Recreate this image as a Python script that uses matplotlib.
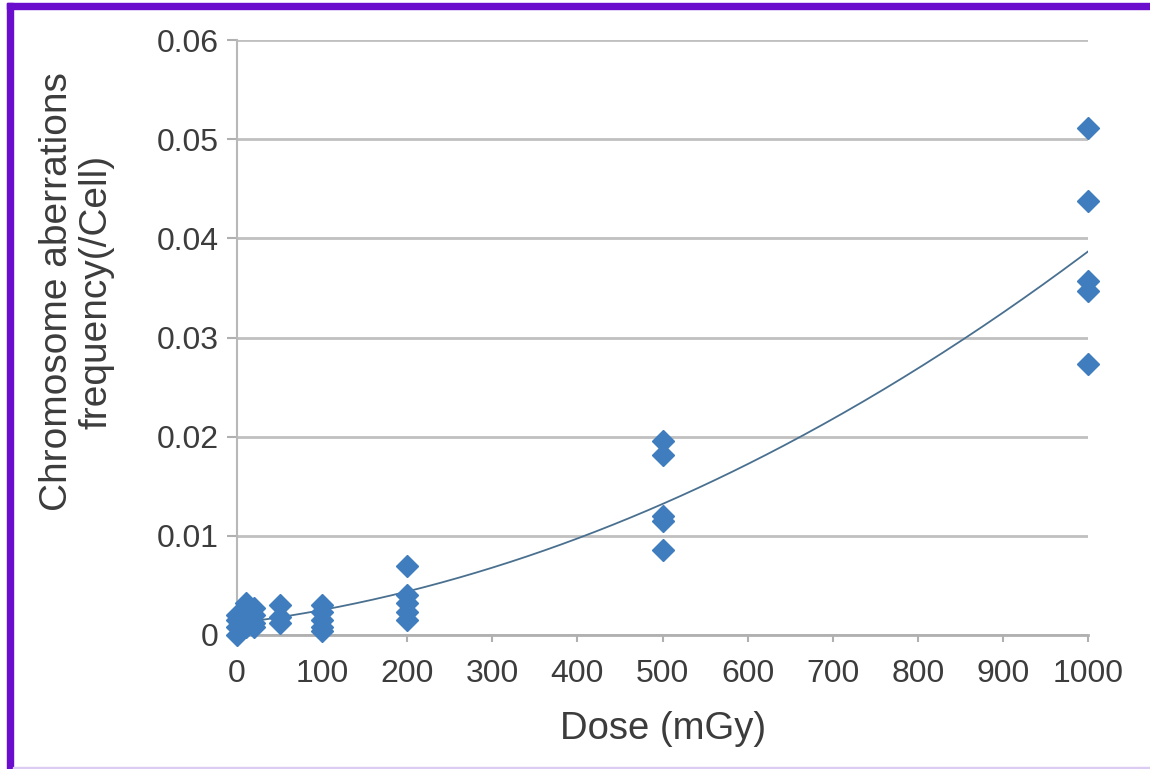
import numpy as np
import matplotlib
matplotlib.use("Agg")
import matplotlib.pyplot as plt
from matplotlib.patches import Rectangle

plt.rcParams['font.family'] = ['Liberation Sans', 'DejaVu Sans']

# ---- data ----
dose_0 = [0, 0, 0, 0]
freq_0 = [0.0000, 0.0008, 0.0015, 0.0020]
dose_5 = [5, 5, 5]
freq_5 = [0.0012, 0.0018, 0.0022]
dose_10 = [10, 10, 10, 10]
freq_10 = [0.0032, 0.0025, 0.0015, 0.0008]
dose_20 = [20, 20, 20, 20]
freq_20 = [0.0027, 0.0020, 0.0012, 0.0008]
dose_50 = [50, 50, 50]
freq_50 = [0.0030, 0.0018, 0.0012]
dose_100 = [100, 100, 100, 100, 100]
freq_100 = [0.0030, 0.0023, 0.0015, 0.0008, 0.0004]
dose_200 = [200, 200, 200, 200, 200]
freq_200 = [0.0070, 0.0040, 0.0032, 0.0023, 0.0015]
dose_500 = [500, 500, 500, 500, 500]
freq_500 = [0.0196, 0.0182, 0.0120, 0.0115, 0.0086]
dose_1000 = [1000, 1000, 1000, 1000, 1000]
freq_1000 = [0.0511, 0.0438, 0.0357, 0.0347, 0.0273]

x_ticks = [0, 100, 200, 300, 400, 500, 600, 700, 800, 900, 1000]
y_ticks = [0, 0.01, 0.02, 0.03, 0.04, 0.05, 0.06]
y_tick_labels = ["0", "0.01", "0.02", "0.03", "0.04", "0.05", "0.06"]
x_label = "Dose (mGy)"
y_label = "Chromosome aberrations\nfrequency(/Cell)"

dose = np.array(dose_0 + dose_5 + dose_10 + dose_20 + dose_50 + dose_100 + dose_200 + dose_500 + dose_1000, float)
freq = np.array(freq_0 + freq_5 + freq_10 + freq_20 + freq_50 + freq_100 + freq_200 + freq_500 + freq_1000, float)

# polynomial (order 2) trendline fitted to the data
coef = np.polyfit(dose, freq, 2)
xs = np.linspace(0, 1000, 300)
ys = np.polyval(coef, xs)

W, H = 1150, 769
fig = plt.figure(figsize=(W / 100, H / 100), dpi=100)
fig.patch.set_facecolor('white')

ax = fig.add_axes([237 / W, (H - 635) / H, (1088 - 237) / W, (635 - 40) / H])
ax.set_xlim(0, 1000)
ax.set_ylim(0, 0.06)

text_col = '#3C3C3C'
grid_col = '#C0C0C0'

ax.yaxis.grid(True, color=grid_col, linewidth=2)
ax.set_axisbelow(True)
for s in ['top', 'right']:
    ax.spines[s].set_visible(False)
ax.spines['left'].set_color('#B8B8B8')
ax.spines['left'].set_linewidth(1.5)
ax.spines['bottom'].set_color('#B0B0B0')
ax.spines['bottom'].set_linewidth(2)

ax.set_xticks(x_ticks)
ax.set_xticklabels([str(t) for t in x_ticks])
ax.set_yticks(y_ticks)
ax.set_yticklabels(y_tick_labels)
ax.tick_params(axis='both', colors='#B0B0B0', labelcolor=text_col, labelsize=23, width=1.5)
ax.tick_params(axis='x', length=5, pad=12)
ax.tick_params(axis='y', length=7, pad=6)

ax.plot(xs, ys, color='#4A7090', linewidth=1.3, zorder=3)
ax.plot(dose, freq, linestyle='none', marker='D', markersize=11,
        color='#3F7DBF', markeredgecolor='#3F7DBF', clip_on=False, zorder=4)

fig.text(663 / W, (H - 729) / H, x_label, ha='center', va='center', fontsize=27.5, color=text_col)
fig.text(77 / W, (H - 292) / H, y_label, ha='center', va='center', rotation=90,
         fontsize=28, color=text_col, linespacing=1.12)

# purple frame
purple = '#6A0DCC'
fig.patches.append(Rectangle((7 / W, 0), 6 / W, 1 - 3 / H, transform=fig.transFigure, color=purple))
fig.patches.append(Rectangle((7 / W, 1 - 9 / H), 1, 6 / H, transform=fig.transFigure, color=purple))
fig.patches.append(Rectangle((13 / W, 0), 1, 2.5 / H, transform=fig.transFigure, color='#DCCBF3'))

fig.savefig('out.png', dpi=100, facecolor='white')
